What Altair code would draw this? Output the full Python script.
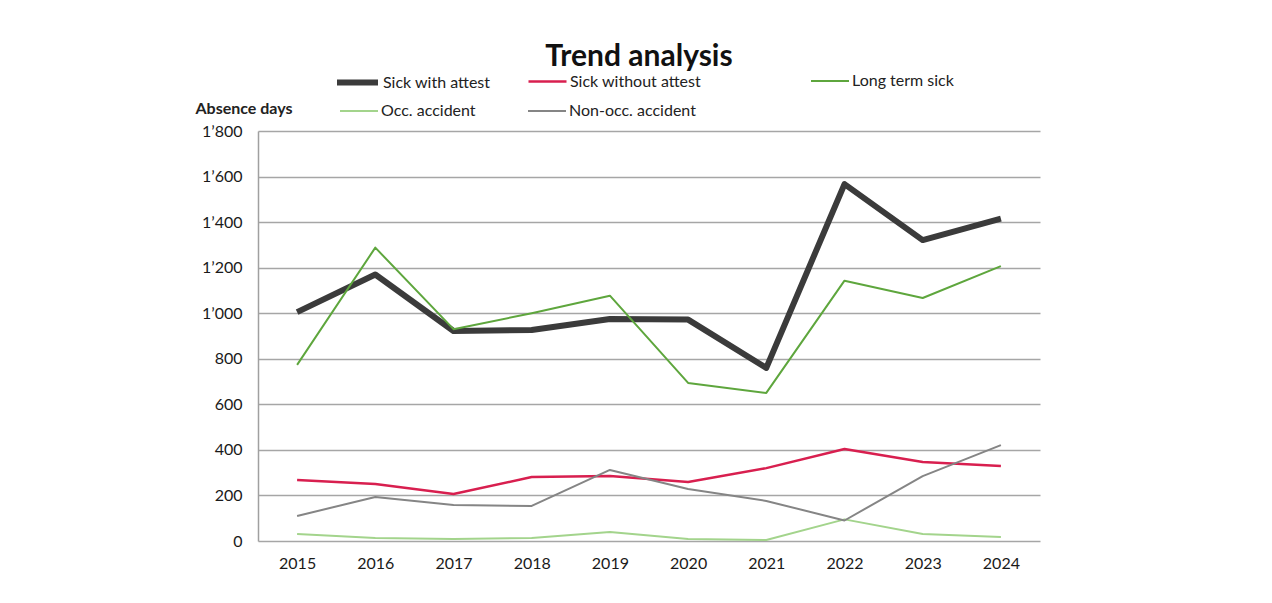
import altair as alt
import pandas as pd

years = [2015, 2016, 2017, 2018, 2019, 2020, 2021, 2022, 2023, 2024]
series_names = ["Sick with attest", "Sick without attest", "Long term sick",
                "Occ. accident", "Non-occ. accident"]
sick_with_attest = [1005, 1170, 922, 926, 975, 972, 760, 1567, 1321, 1415]
sick_without_attest = [268, 250, 206, 281, 285, 259, 320, 404, 347, 329]
long_term_sick = [773, 1288, 930, 1000, 1077, 694, 650, 1143, 1067, 1207]
occ_accident = [31, 13, 9, 13, 40, 9, 4, 95, 31, 18]
non_occ_accident = [110, 193, 158, 154, 312, 228, 176, 90, 285, 421]
y_ticks = [0, 200, 400, 600, 800, 1000, 1200, 1400, 1600, 1800]

values = [sick_with_attest, sick_without_attest, long_term_sick, occ_accident, non_occ_accident]
rows = []
for name, vals in zip(series_names, values):
    for yr, v in zip(years, vals):
        rows.append({"year": str(yr), "series": name, "days": v})
df = pd.DataFrame(rows)

colors = ["#3b3b3b", "#d81f4f", "#5ea63d", "#a3d48c", "#858585"]
widths = [6, 2.5, 2, 2, 2]
sym_sizes = [1681, 1444, 1444, 1444, 1444]
legend_pos = [(76, -72), (269, -70), (552, -70), (81, -40), (269, -40)]

FONT = "Lato"
xenc = alt.X("year:N", title=None,
             axis=alt.Axis(labelAngle=0, ticks=False, domain=False, grid=False,
                           labelFont=FONT, labelFontSize=16, labelColor="#1a1a1a",
                           labelPadding=14))
yenc = alt.Y("days:Q", scale=alt.Scale(domain=[0, 1800], nice=False),
             axis=alt.Axis(values=y_ticks, title="Absence days", titleAngle=0,
                           titleX=-63, titleY=-18, titleAlign="left",
                           titleBaseline="alphabetic", titleFont=FONT,
                           titleFontSize=16, titleFontWeight="bold", titleColor="#222",
                           labelExpr="replace(format(datum.value, ','), ',', '\u2019')",
                           labelFont=FONT, labelFontSize=16, labelColor="#1a1a1a",
                           labelPadding=16, ticks=False, domain=True,
                           domainColor="#a0a0a0", domainWidth=1.5,
                           gridColor="#a6a6a6", gridWidth=1.5, gridOpacity=1))

layers = []
for i, name in enumerate(series_names):
    lx, ly = legend_pos[i]
    layer = alt.Chart(df).transform_filter(
        alt.datum.series == name
    ).mark_line(strokeWidth=widths[i], strokeJoin="round").encode(
        x=xenc,
        y=yenc,
        color=alt.Color("series:N",
                        scale=alt.Scale(domain=[name], range=[colors[i]]),
                        legend=alt.Legend(orient="none", legendX=lx, legendY=ly,
                                          title=None, symbolType="stroke",
                                          symbolSize=sym_sizes[i],
                                          symbolStrokeWidth=widths[i],
                                          labelFont=FONT, labelFontSize=16,
                                          labelColor="#222", labelOffset=2,
                                          padding=0))
    )
    layers.append(layer)

chart = alt.layer(*layers).resolve_scale(color="independent").properties(
    width=782,
    height=410,
    background="white",
    autosize=alt.AutoSizeParams(type="none"),
    padding={"left": 250, "top": 123, "right": 224, "bottom": 54},
    title=alt.Title("Trend analysis", font=FONT, fontSize=30, fontWeight="bold",
                    color="#111", anchor="middle", frame="group", offset=-13, dx=-10),
).configure_view(stroke=None)

chart.save("out.html", embed_options={"renderer": "svg", "actions": False})
